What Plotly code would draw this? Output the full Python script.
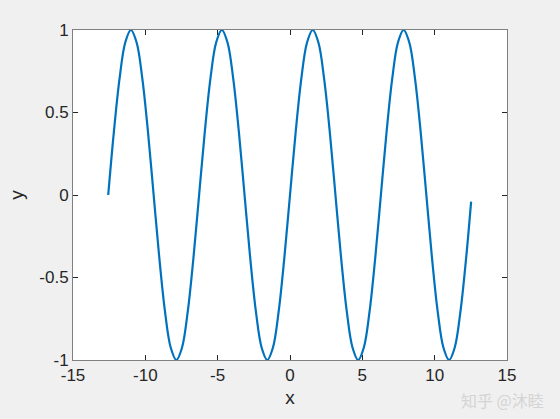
import plotly.graph_objects as go

x_vals = [-12.566, -12.174, -11.781, -11.388, -10.996, -10.603, -10.210, -9.817,
          -9.425, -9.032, -8.639, -8.247, -7.854, -7.461, -7.069, -6.676,
          -6.283, -5.890, -5.498, -5.105, -4.712, -4.320, -3.927, -3.534,
          -3.142, -2.749, -2.356, -1.963, -1.571, -1.178, -0.785, -0.393,
          0.0, 0.393, 0.785, 1.178, 1.571, 1.963, 2.356, 2.749,
          3.142, 3.534, 3.927, 4.320, 4.712, 5.105, 5.498, 5.890,
          6.283, 6.676, 7.069, 7.461, 7.854, 8.247, 8.639, 9.032,
          9.425, 9.817, 10.210, 10.603, 10.996, 11.388, 11.781, 12.174, 12.52]
y_vals = [0.0, 0.383, 0.707, 0.924, 1.0, 0.924, 0.707, 0.383,
          0.0, -0.383, -0.707, -0.924, -1.0, -0.924, -0.707, -0.383,
          0.0, 0.383, 0.707, 0.924, 1.0, 0.924, 0.707, 0.383,
          0.0, -0.383, -0.707, -0.924, -1.0, -0.924, -0.707, -0.383,
          0.0, 0.383, 0.707, 0.924, 1.0, 0.924, 0.707, 0.383,
          0.0, -0.383, -0.707, -0.924, -1.0, -0.924, -0.707, -0.383,
          0.0, 0.383, 0.707, 0.924, 1.0, 0.924, 0.707, 0.383,
          0.0, -0.383, -0.707, -0.924, -1.0, -0.924, -0.707, -0.383, -0.04]
x_ticks = [-15, -10, -5, 0, 5, 10, 15]
y_ticks = [-1, -0.5, 0, 0.5, 1]
y_tick_text = ["-1", "-0.5", "0", "0.5", "1"]

FONT = "Liberation Sans, Arial, sans-serif"

fig = go.Figure()
fig.add_trace(go.Scatter(x=x_vals, y=y_vals, mode="lines",
                         line=dict(color="#0072BD", width=2.2, shape="spline", smoothing=1.0),
                         showlegend=False, hoverinfo="skip"))

axis_common = dict(showgrid=False, zeroline=False, showline=True, linecolor="#808080",
                   linewidth=1, mirror="ticks", ticks="inside", ticklen=5, tickcolor="#262626",
                   tickfont=dict(family=FONT, size=17, color="#262626"))

fig.update_xaxes(range=[-15, 15], tickvals=x_ticks, ticktext=[str(v) for v in x_ticks],
                 title=dict(text="x", font=dict(family=FONT, size=19, color="#262626"), standoff=6),
                 **axis_common)
fig.update_yaxes(range=[-1, 1], tickvals=y_ticks, ticktext=y_tick_text,
                 title=dict(text="y", font=dict(family=FONT, size=19, color="#262626"), standoff=10),
                 **axis_common)

fig.add_annotation(text="知乎 @沐睦", xref="paper", yref="paper", x=1.088, y=-0.082,
                   xanchor="right", yanchor="top", showarrow=False, borderpad=0,
                   font=dict(family="Noto Sans CJK SC", size=16, color="#d4d4d4"))

fig.update_layout(width=560, height=419, paper_bgcolor="#f0f0f0", plot_bgcolor="#ffffff",
                  margin=dict(l=73, r=53, t=30, b=59), autosize=False)

fig.write_html("out.html", config={"displayModeBar": False, "staticPlot": True},
               post_script="document.body.style.margin='0';document.body.style.padding='0';document.body.style.overflow='hidden';document.body.style.background='#f0f0f0';")
